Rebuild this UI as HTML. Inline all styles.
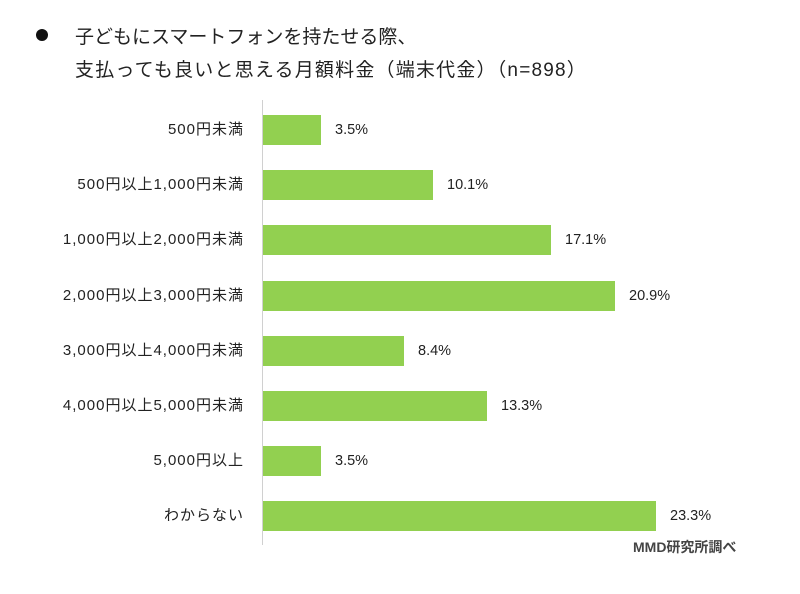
<!DOCTYPE html><html><head><meta charset="utf-8"><style>
body{margin:0;background:#fff;width:800px;height:594px;position:relative;overflow:hidden;font-family:"Liberation Sans","Noto Sans CJK JP",sans-serif;color:#222}
.t{position:absolute;font-size:19px;white-space:nowrap}
.l{position:absolute;right:556px;font-size:15px;letter-spacing:1px;white-space:nowrap;line-height:30px}
.b{position:absolute;left:263px;height:30px;background:#92d050}
.v{position:absolute;font-size:14.5px;line-height:30px}
</style></head><body>
<div style="position:absolute;left:36px;top:29px;width:12px;height:12px;border-radius:50%;background:#111"></div>
<div class="t" style="left:75px;top:22px">子どもにスマートフォンを持たせる際、</div>
<div class="t" style="left:75px;top:55px;letter-spacing:1.2px">支払っても良いと思える月額料金（端末代金）（n=898）</div>
<div style="position:absolute;left:262px;top:100px;width:1px;height:445px;background:#d0d0d0"></div>
<div class="l" style="top:115px">500円未満</div><div class="b" style="top:115px;width:58px"></div><div class="v" style="top:115px;left:335px">3.5%</div>
<div class="l" style="top:170px">500円以上1,000円未満</div><div class="b" style="top:170px;width:170px"></div><div class="v" style="top:170px;left:447px">10.1%</div>
<div class="l" style="top:225px">1,000円以上2,000円未満</div><div class="b" style="top:225px;width:288px"></div><div class="v" style="top:225px;left:565px">17.1%</div>
<div class="l" style="top:281px">2,000円以上3,000円未満</div><div class="b" style="top:281px;width:352px"></div><div class="v" style="top:281px;left:629px">20.9%</div>
<div class="l" style="top:336px">3,000円以上4,000円未満</div><div class="b" style="top:336px;width:141px"></div><div class="v" style="top:336px;left:418px">8.4%</div>
<div class="l" style="top:391px">4,000円以上5,000円未満</div><div class="b" style="top:391px;width:224px"></div><div class="v" style="top:391px;left:501px">13.3%</div>
<div class="l" style="top:446px">5,000円以上</div><div class="b" style="top:446px;width:58px"></div><div class="v" style="top:446px;left:335px">3.5%</div>
<div class="l" style="top:501px">わからない</div><div class="b" style="top:501px;width:393px"></div><div class="v" style="top:501px;left:670px">23.3%</div>
<div style="position:absolute;left:633px;top:537px;font-size:14px;font-weight:bold;color:#444">MMD研究所調べ</div>
</body></html>
